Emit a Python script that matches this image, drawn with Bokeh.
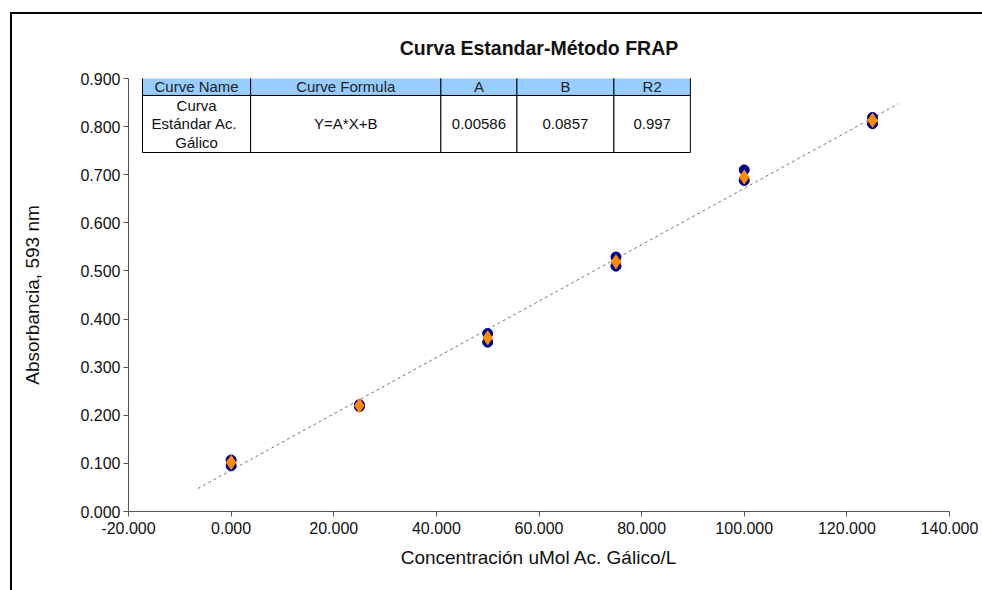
from bokeh.plotting import figure
from bokeh.models import FixedTicker, NumeralTickFormatter
from bokeh.embed import file_html
from bokeh.resources import INLINE

# ---- data ----
conc = [0, 0, 25, 25, 50, 50, 75, 75, 100, 100, 125, 125]
absorb = [0.107, 0.095, 0.222, 0.218, 0.370, 0.352, 0.529, 0.510, 0.710, 0.688, 0.819, 0.806]
mean_conc = [0, 25, 50, 75, 100, 125]
mean_abs = [0.102, 0.220, 0.361, 0.519, 0.695, 0.813]
coef_A = 0.00586
coef_B = 0.0857
r2 = 0.997
fit_x = [-6.5, 130]
fit_y = [coef_A * x + coef_B for x in fit_x]
x_ticks = [-20, 0, 20, 40, 60, 80, 100, 120, 140]
y_ticks = [0.0, 0.1, 0.2, 0.3, 0.4, 0.5, 0.6, 0.7, 0.8, 0.9]
table_headers = ["Curve Name", "Curve Formula", "A", "B", "R2"]
table_values = ["Curva\nEstándar  Ac.\nGálico", "Y=A*X+B", "0.00586", "0.0857", "0.997"]

FONT = "Liberation Sans"

p = figure(width=972, height=578, output_backend="svg", toolbar_location=None,
           x_range=(-20, 140), y_range=(0, 0.9),
           min_border_left=116, min_border_right=35, min_border_top=63, min_border_bottom=81,
           title="Curva Estandar-Método FRAP")
p.margin = (12, 0, 0, 10)
p.styles = {"border-left": "2px solid #000", "border-top": "2px solid #000"}
p.outline_line_color = None
p.xgrid.visible = False
p.ygrid.visible = False
p.background_fill_color = "white"
p.border_fill_color = "white"

p.title.align = "center"
p.title.text_font = FONT
p.title.text_font_size = "19.5px"
p.title.text_font_style = "bold"
p.title.text_color = "#111111"
p.title.standoff = 40

for ax in (p.xaxis[0], p.yaxis[0]):
    ax.axis_line_color = "#555555"
    ax.major_tick_line_color = "#555555"
    ax.minor_tick_line_color = None
    ax.major_tick_out = 5
    ax.major_tick_in = 0
    ax.major_label_text_font = FONT
    ax.major_label_text_font_size = "16px"
    ax.major_label_text_color = "#111111"
    ax.axis_label_text_font = FONT
    ax.axis_label_text_font_style = "normal"
    ax.axis_label_text_color = "#111111"

p.xaxis.ticker = FixedTicker(ticks=x_ticks)
p.yaxis.ticker = FixedTicker(ticks=y_ticks)
p.xaxis.formatter = NumeralTickFormatter(format="0.000")
p.yaxis.formatter = NumeralTickFormatter(format="0.000")
p.xaxis.axis_label = "Concentración uMol Ac. Gálico/L"
p.yaxis.axis_label = "Absorbancia, 593 nm"
p.xaxis.axis_label_text_font_size = "19px"
p.yaxis.axis_label_text_font_size = "19px"
p.xaxis.axis_label_standoff = 10
p.yaxis.axis_label_standoff = 34
p.xaxis.major_label_standoff = 5
p.yaxis.major_label_standoff = 3

# trend line
p.line(fit_x, fit_y, line_color="#777777", line_dash="3 3", line_width=1)

# replicates and means
p.scatter(conc, absorb, marker="circle", size=10, fill_color="#00008B", line_color="#00008B")
p.scatter(mean_conc, mean_abs, marker="diamond", size=14, fill_color="#FF8C00", line_color="#FF8C00")

# ---- table (in data coordinates) ----
col_edges = [-17.27, 3.8, 40.88, 55.7, 74.6, 89.5]
row_edges = [0.902, 0.8647, 0.7462]
lefts = col_edges[:-1]
rights = col_edges[1:]
p.quad(left=lefts, right=rights, top=[row_edges[0]] * 5, bottom=[row_edges[1]] * 5,
       fill_color="#99CCFF", line_color="#000000", line_width=1)
p.quad(left=lefts, right=rights, top=[row_edges[1]] * 5, bottom=[row_edges[2]] * 5,
       fill_color="white", line_color="#000000", line_width=1)
centers = [(a + b) / 2 for a, b in zip(lefts, rights)]
p.text(x=centers, y=[(row_edges[0] + row_edges[1]) / 2] * 5, text=table_headers,
       text_align="center", text_baseline="middle", text_font={"value": FONT},
       text_font_size={"value": "15px"}, text_color="#222222")
p.text(x=centers, y=[(row_edges[1] + row_edges[2]) / 2] * 5, text=table_values,
       text_align="center", text_baseline="middle", text_font={"value": FONT},
       text_font_size={"value": "15px"}, text_color="#111111", text_line_height=1.08)

open("out.html", "w").write(file_html(p, INLINE))
